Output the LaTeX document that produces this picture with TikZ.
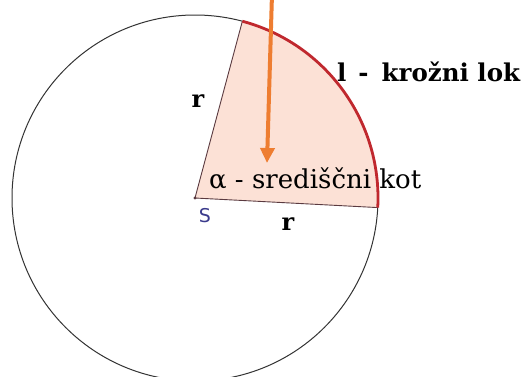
\documentclass[tikz,border=0pt]{standalone}
\usepackage{fontspec}
\setmainfont{DejaVu Serif}
\newfontfamily\sansS{DejaVu Sans}
\usetikzlibrary{arrows.meta,calc}
\definecolor{sectorfill}{HTML}{FCE1D6}
\definecolor{arcred}{HTML}{C0282E}
\definecolor{arroworange}{HTML}{EE7D31}
\definecolor{sblue}{HTML}{3B3B8C}
\definecolor{radline}{HTML}{5A3A40}
\begin{document}
\begin{tikzpicture}[x=1pt,y=-1pt,
  lbl/.style={inner sep=0pt, anchor=base west, font=\fontsize{26}{28}\selectfont},
  rlbl/.style={inner sep=0pt, anchor=base, font=\fontsize{24}{26}\selectfont\bfseries},
  radius line/.style={draw=radline, line width=0.9pt},
  arcline/.style={draw=arcred, line width=2.8pt},
  pointer/.style={draw=arroworange, line width=4pt, -{Triangle[width=14pt,length=15pt]}}]
\useasboundingbox (0,0) rectangle (523,376);
\clip (0,0) rectangle (523,376);
\fill[white] (0,0) rectangle (523,376);
\coordinate (S) at (195,198);
\draw[line width=1pt, color=black!80] (S) circle[radius=183];
\fill[sectorfill] (S) -- ++(-75:183) arc[start angle=-75, end angle=3, radius=183] -- cycle;
\draw[radius line] (S) -- ++(-75:183);
\draw[radius line] (S) -- ++(3:183);
\node[lbl] (alpha) at (209,188) {α - središčni kot};
\node[lbl, font=\fontsize{24.5}{27}\selectfont\bfseries] (lok) at (337,81) {l\hspace{12pt}-\hspace{13pt}krožni lok};
\node[rlbl] (r1) at (198,107) {r};
\node[rlbl] (r2) at (288,230) {r};
\node[inner sep=0pt, anchor=base, text=sblue, font=\sansS\fontsize{19}{21}\selectfont] (Slbl) at (205,222) {S};
\fill[radline] (S) circle[radius=1.6];
\draw[arcline] (S) ++(-75:183) arc[start angle=-75, end angle=3, radius=183];
\coordinate (arrtop) at (272,-6);
\coordinate (arrtip) at (267,163);
\draw[pointer] (arrtop) -- (arrtip);
\end{tikzpicture}
\end{document}
